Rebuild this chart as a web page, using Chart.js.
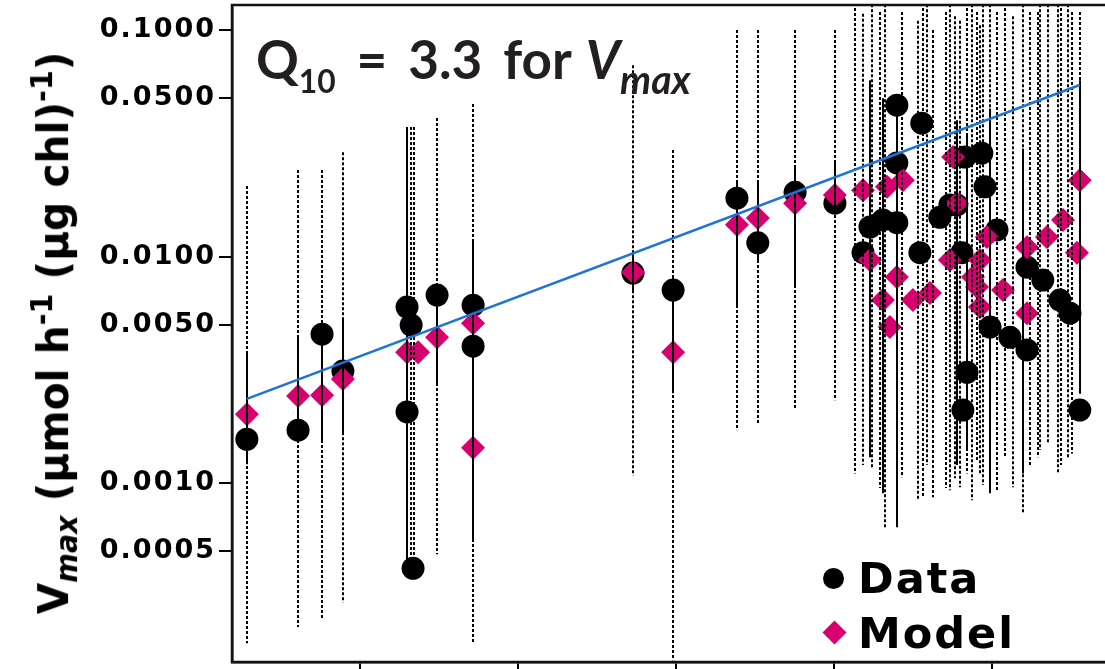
<!DOCTYPE html>
<html>
<head>
<meta charset="utf-8">
<script src="https://cdn.jsdelivr.net/npm/chart.js@4.4.0/dist/chart.umd.min.js"></script>
<style>
  html, body { margin: 0; padding: 0; background: #fff; overflow: hidden; width: 1105px; height: 669px; }
  #wrap { position: absolute; left: 0; top: 0; width: 1112px; height: 675px; }
  .txt { position: absolute; white-space: nowrap; color: #000; line-height: 1; }
  #ytitle {
    left: 54px; top: 333px;
    font: bold 37px "DejaVu Sans", sans-serif;
    transform: translate(-50%, -50%) rotate(-90deg) scale(1.1, 1.15);
  }
  #ytitle sub { font-size: 0.7em; vertical-align: -0.3em; font-style: italic; }
  #ytitle sup { font-size: 0.7em; vertical-align: 0.55em; }
  #q10 { left: 256px; top: 27px; font: 700 53px "Lato", sans-serif; color: #231f20; word-spacing: 8px; }
  #q10 .s1 { font-size: 0.6em; vertical-align: -14px; }
  #q10 .v { margin-left: 14px; }
  #q10 .s2 { font-size: 0.74em; vertical-align: -15px; }
  .leg { font: bold 43px "DejaVu Sans", sans-serif; letter-spacing: 2px; }
  #legData { left: 858px; top: 553px; }
  #legModel { left: 858px; top: 608px; }
  #dotData { position: absolute; left: 823px; top: 568px; width: 21px; height: 21px; border-radius: 50%; background: #000; }
  #dotModel { position: absolute; left: 826px; top: 624px; width: 17px; height: 17px; background: #d6006f; transform: rotate(45deg); }
</style>
</head>
<body>
<div id="wrap"><canvas id="chart" width="1112" height="675"></canvas></div>
<div class="txt" id="ytitle">V<sub>max</sub> (µmol h<sup>-1</sup> (µg chl)<sup>-1</sup>)</div>
<div class="txt" id="q10">Q<span class="s1">10</span> = 3.3 for<i class="v">V<span class="s2">max</span></i></div>
<div id="dotData"></div>
<div class="txt leg" id="legData">Data</div>
<div id="dotModel"></div>
<div class="txt leg" id="legModel">Model</div>
<script>
// temperature positions and Vmax values
const dataTemp = [-3.58, -1.96, -1.20, -0.54, 1.49, 1.62, 1.49, 1.68, 2.44, 3.58, 3.58,
  8.64, 9.91, 11.93, 12.59, 13.77, 15.03,
  16.99, 17.78, 16.99, 16.14, 16.55, 16.99, 15.92, 17.72, 18.35, 18.67, 19.15, 19.68, 19.78,
  18.89, 20.16, 19.05, 21.11, 21.61, 22.15, 22.47, 19.94, 20.57, 21.11, 19.21, 19.08, 22.78];
const dataVmax = [0.00156, 0.00171, 0.00454, 0.00312, 0.00598, 0.00498, 0.00206, 0.00042, 0.00676, 0.0061, 0.00402,
  0.00845, 0.00711, 0.0181, 0.0115, 0.0192, 0.0172,
  0.0466, 0.0388, 0.0259, 0.0135, 0.0145, 0.0141, 0.0104, 0.0104, 0.0149, 0.0169, 0.0275, 0.0286, 0.0203,
  0.0169, 0.0131, 0.0104, 0.00897, 0.00787, 0.00642, 0.00562, 0.00488, 0.0044, 0.00387, 0.00308, 0.0021, 0.0021];

const modelTemp = [-3.58, -1.96, -1.20, -0.54, 1.49, 1.84, 2.44, 3.58, 3.58,
  8.64, 9.91, 11.93, 12.59, 13.77, 15.03,
  15.92, 16.68, 17.18, 18.77, 18.89, 19.84, 22.78, 22.25, 21.74, 21.11, 22.69, 18.67,
  19.40, 18.04, 17.50, 20.35, 21.11, 16.99, 16.55, 16.77, 16.14, 19.62, 19.53, 19.62];
const modelVmax = [0.00201, 0.00242, 0.00244, 0.00288, 0.00378, 0.00378, 0.0044, 0.00508, 0.00143,
  0.00853, 0.00378, 0.0138, 0.0148, 0.0172, 0.0187,
  0.0196, 0.0203, 0.0217, 0.0275, 0.0172, 0.0122, 0.0217, 0.0145, 0.0122, 0.0110, 0.0104, 0.00964,
  0.00811, 0.0069, 0.00642, 0.00711, 0.00562, 0.00811, 0.00642, 0.00488, 0.00964, 0.00964, 0.00733, 0.00598];

// solid bars (data spread)
const solidTemp = [-3.58, -1.96, -1.20, -0.54, 1.49, 2.44, 3.58, 8.64, 9.91, 11.93, 12.59, 13.77, 15.03,
  16.14, 16.55, 16.99, 18.89, 19.21, 19.94, 20.98, 22.78];
const solidHi = [0.00371, 0.0044, 0.00519, 0.00535, 0.0373, 0.0072, 0.0119, 0.0104, 0.00811, 0.0211, 0.0217, 0.0248, 0.0259,
  0.06, 0.05, 0.049, 0.04, 0.035, 0.045, 0.03, 0.06];
const solidLo = [0.00121, 0.0015, 0.0015, 0.00164, 0.000451, 0.00268, 0.000565, 0.0069, 0.00249, 0.00598, 0.00964, 0.00733, 0.0155,
  0.0013, 0.0009, 0.000638, 0.0012, 0.0014, 0.000901, 0.0011, 0.00248];

// dotted bars (model range)
const dottedTemp = [-3.58, -1.96, -1.20, -0.54, 1.62, 1.70, 2.44, 3.58, 8.64, 9.91, 11.93, 12.59, 13.77, 15.03,
  15.66, 15.92, 16.20, 16.46, 16.61, 17.15, 17.66, 17.82, 17.94, 18.13, 18.55, 18.67, 18.83, 18.99, 19.21,
  19.37, 19.53, 19.62, 19.72, 19.94, 20.16, 20.41, 20.66, 20.98, 21.20, 21.45, 21.52, 21.77, 22.09, 22.20,
  22.41, 22.53, 22.78];
const dottedHi = [0.0205, 0.0241, 0.0241, 0.0289, 0.0373, 0.0373, 0.0409, 0.0471, 0.070, 0.0295, 0.1, 0.1, 0.1, 0.1,
  0.125, 0.118, 0.13, 0.12, 0.13, 0.12, 0.11, 0.125, 0.13, 0.1, 0.12, 0.13, 0.115, 0.11, 0.125,
  0.13, 0.12, 0.105, 0.13, 0.13, 0.12, 0.125, 0.115, 0.13, 0.12, 0.12, 0.13, 0.13, 0.13, 0.125,
  0.13, 0.12, 0.12];
const dottedLo = [0.000196, 0.000231, 0.000248, 0.000297, 0.000451, 0.000451, 0.000485, 0.000196, 0.00108, 0.000165, 0.00171, 0.00184, 0.0021, 0.00232,
  0.0011, 0.0012, 0.00117, 0.00095, 0.000638, 0.00106, 0.000839, 0.000865, 0.0012, 0.000865, 0.00095, 0.000929, 0.00105, 0.000958, 0.0011,
  0.000839, 0.00125, 0.0011, 0.00098, 0.000901, 0.000929, 0.0013, 0.000958, 0.000736, 0.0012, 0.0013, 0.0014, 0.0015, 0.0011, 0.0012,
  0.0013, 0.00135, 0.00276];

// Q10 fit line end points
const fitTemp = [-3.58, 22.78];
const fitVmax = [0.00235, 0.0572];

const yTickValues = [0.1, 0.05, 0.01, 0.005, 0.001, 0.0005];
const xTickValues = [0, 5, 10, 15, 20];

function toPoints(xs, ys) {
  return xs.map((x, i) => ({ x: x, y: ys[i] }));
}

const errorBars = {
  id: 'errorBars',
  afterDatasetDraw(chart, args) {
    if (args.index !== 1) return;
    const ctx = chart.ctx;
    const area = chart.chartArea;
    const xs = chart.scales.x;
    const ys = chart.scales.y;
    ctx.save();
    ctx.beginPath();
    ctx.rect(area.left, area.top, area.right - area.left, area.bottom - area.top);
    ctx.clip();
    ctx.strokeStyle = '#000';
    ctx.lineWidth = 2;
    ctx.setLineDash([3, 2]);
    dottedTemp.forEach((t, i) => {
      const px = Math.round(xs.getPixelForValue(t));
      ctx.beginPath();
      ctx.moveTo(px, ys.getPixelForValue(dottedHi[i]));
      ctx.lineTo(px, ys.getPixelForValue(dottedLo[i]));
      ctx.stroke();
    });
    ctx.setLineDash([]);
    solidTemp.forEach((t, i) => {
      const px = Math.round(xs.getPixelForValue(t));
      ctx.beginPath();
      ctx.moveTo(px, ys.getPixelForValue(solidHi[i]));
      ctx.lineTo(px, ys.getPixelForValue(solidLo[i]));
      ctx.stroke();
    });
    ctx.restore();
  }
};

const frame = {
  id: 'frame',
  beforeDraw(chart) {
    chart.ctx.letterSpacing = '2px';
  },
  beforeDatasetsDraw(chart) {
    chart.ctx.letterSpacing = '0px';
  },
  afterDraw(chart) {
    const ctx = chart.ctx;
    const a = chart.chartArea;
    ctx.save();
    ctx.strokeStyle = '#111';
    ctx.lineWidth = 2.5;
    ctx.strokeRect(a.left, a.top, a.right - a.left, a.bottom - a.top);
    ctx.restore();
  }
};

const ctx = document.getElementById('chart').getContext('2d');
const chart = new Chart(ctx, {
  type: 'scatter',
  data: {
    datasets: [
      {
        label: 'Q10 fit',
        type: 'line',
        data: toPoints(fitTemp, fitVmax),
        borderColor: '#1d74d6',
        borderWidth: 2.5,
        pointRadius: 0,
        fill: false,
        tension: 0
      },
      {
        label: 'Model',
        data: toPoints(modelTemp, modelVmax),
        pointStyle: 'rectRot',
        pointRadius: 12,
        backgroundColor: '#d6006f',
        borderWidth: 0
      },
      {
        label: 'Data',
        data: toPoints(dataTemp, dataVmax),
        pointStyle: 'circle',
        pointRadius: 11.5,
        backgroundColor: '#000',
        borderWidth: 0
      }
    ]
  },
  options: {
    responsive: false,
    animation: false,
    devicePixelRatio: 1,
    layout: { autoPadding: false, padding: { top: 5, bottom: 5, left: 0, right: 0 } },
    plugins: {
      legend: { display: false },
      tooltip: { enabled: false }
    },
    scales: {
      x: {
        type: 'linear',
        min: -4.05,
        max: 23.8,
        afterBuildTicks: (scale) => { scale.ticks = xTickValues.map(v => ({ value: v })); },
        afterFit: (scale) => { scale.height = 8; scale.paddingLeft = 0; scale.paddingRight = 0; },
        ticks: { display: false },
        grid: { drawOnChartArea: false, drawTicks: true, tickLength: 8, color: '#000', lineWidth: 2 },
        border: { display: true, color: '#111', width: 2.5 }
      },
      y: {
        type: 'logarithmic',
        min: 0.000162,
        max: 0.129,
        afterBuildTicks: (scale) => { scale.ticks = yTickValues.map(v => ({ value: v })); },
        afterFit: (scale) => { scale.width = 232; scale.paddingTop = 0; scale.paddingBottom = 0; },
        ticks: {
          color: '#000',
          padding: 3,
          font: { family: 'DejaVu Sans', weight: 'bold', size: 27 },
          callback: (v) => Number(v).toFixed(4)
        },
        grid: { drawOnChartArea: false, drawTicks: true, tickLength: 13, color: '#000', lineWidth: 2 },
        border: { display: true, color: '#111', width: 2.5 }
      }
    }
  },
  plugins: [errorBars, frame]
});
</script>
</body>
</html>
